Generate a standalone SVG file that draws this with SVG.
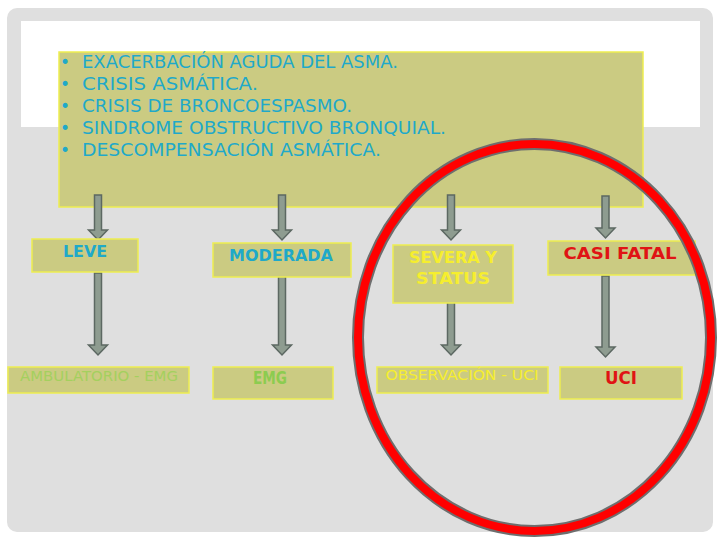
<svg xmlns="http://www.w3.org/2000/svg" width="720" height="540" viewBox="0 0 720 540">
<style>
.box{fill:#cbcb82;stroke:#eeee50;stroke-width:1.5}
.arr{fill:#8e9c90;stroke:#5c6862;stroke-width:1.5;stroke-linejoin:miter}
.t{font-family:"DejaVu Sans",sans-serif;text-anchor:middle}
.b{font-weight:bold}
.list{font-family:"DejaVu Sans",sans-serif;font-size:17px;fill:#1fa9c9}
</style>
<rect width="720" height="540" fill="#ffffff"/>
<rect x="7" y="8" width="706" height="524" rx="10" fill="#dfdfdf"/>
<rect x="21" y="21" width="679" height="106" fill="#ffffff"/>
<g id="main">
<rect class="box" x="59" y="52" width="584" height="155"/>
<g class="list">
<text x="60" y="68">•</text><text x="82" y="68" textLength="316" lengthAdjust="spacingAndGlyphs">EXACERBACIÓN AGUDA DEL ASMA.</text>
<text x="60" y="90">•</text><text x="82" y="90" textLength="176" lengthAdjust="spacingAndGlyphs">CRISIS ASMÁTICA.</text>
<text x="60" y="112">•</text><text x="82" y="112" textLength="270" lengthAdjust="spacingAndGlyphs">CRISIS DE BRONCOESPASMO.</text>
<text x="60" y="134">•</text><text x="82" y="134" textLength="364" lengthAdjust="spacingAndGlyphs">SINDROME OBSTRUCTIVO BRONQUIAL.</text>
<text x="60" y="156">•</text><text x="82" y="156" textLength="299" lengthAdjust="spacingAndGlyphs">DESCOMPENSACIÓN ASMÁTICA.</text>
</g>
</g>
<g id="connectors">
<path class="arr" d="M94.5,195 H101.5 V230 H107.5 L98,240 L88.5,230 H94.5 Z"/>
<path class="arr" d="M278.5,195 H285.5 V230 H291.5 L282,240 L272.5,230 H278.5 Z"/>
<path class="arr" d="M447.5,195 H454.5 V230 H460.5 L451,240 L441.5,230 H447.5 Z"/>
<path class="arr" d="M602,196 H609 V228 H615 L605.5,238 L596,228 H602 Z"/>
<path class="arr" d="M94.5,273 H101.5 V345 H107.5 L98,355 L88.5,345 H94.5 Z"/>
<path class="arr" d="M278.5,273 H285.5 V345 H291.5 L282,355 L272.5,345 H278.5 Z"/>
<path class="arr" d="M447.5,298 H454.5 V345 H460.5 L451,355 L441.5,345 H447.5 Z"/>
<path class="arr" d="M602,276 H609 V347 H615 L605.5,357 L596,347 H602 Z"/>
</g>
<g id="leve">
<rect class="box" x="32" y="239" width="106" height="33"/>
<text class="t b" x="85" y="257" font-size="16" fill="#1fa9c9" textLength="44" lengthAdjust="spacingAndGlyphs">LEVE</text>
</g>
<g id="moderada">
<rect class="box" x="213" y="243" width="138" height="34"/>
<text class="t b" x="281" y="261" font-size="16" fill="#1fa9c9" textLength="104" lengthAdjust="spacingAndGlyphs">MODERADA</text>
</g>
<g id="severa">
<rect class="box" x="393" y="245" width="120" height="58"/>
<text class="t b" x="453" y="263" font-size="16" fill="#f6ee2e" textLength="88" lengthAdjust="spacingAndGlyphs">SEVERA Y</text>
<text class="t b" x="453" y="284" font-size="16" fill="#f6ee2e" textLength="74" lengthAdjust="spacingAndGlyphs">STATUS</text>
</g>
<g id="casifatal">
<rect class="box" x="548" y="241" width="147" height="34"/>
<text class="t b" x="620" y="259" font-size="16" fill="#e01414" textLength="113" lengthAdjust="spacingAndGlyphs">CASI FATAL</text>
</g>
<g id="ambulatorio">
<rect class="box" x="8" y="367" width="181" height="26"/>
<text class="t" x="99" y="381" font-size="14" fill="#a4d05e" textLength="158" lengthAdjust="spacingAndGlyphs">AMBULATORIO - EMG</text>
</g>
<g id="emg">
<rect class="box" x="213" y="367" width="120" height="32"/>
<text class="t b" x="270" y="384" font-size="17" fill="#8ccc50" textLength="34" lengthAdjust="spacingAndGlyphs">EMG</text>
</g>
<g id="observacion">
<rect class="box" x="377" y="367" width="171" height="26"/>
<text class="t" x="462" y="380" font-size="14" fill="#f6ee2e" textLength="153" lengthAdjust="spacingAndGlyphs">OBSERVACIÓN - UCI</text>
</g>
<g id="uci">
<rect class="box" x="560" y="367" width="122" height="32"/>
<text class="t b" x="621" y="384" font-size="17" fill="#e01414" textLength="32" lengthAdjust="spacingAndGlyphs">UCI</text>
</g>
<g id="highlight">
<ellipse cx="534.5" cy="337.5" rx="176.5" ry="193.5" fill="none" stroke="#6e6e6e" stroke-width="12"/>
<ellipse cx="534.5" cy="337.5" rx="176.5" ry="193.5" fill="none" stroke="#ff0000" stroke-width="8"/>
</g>
</svg>
